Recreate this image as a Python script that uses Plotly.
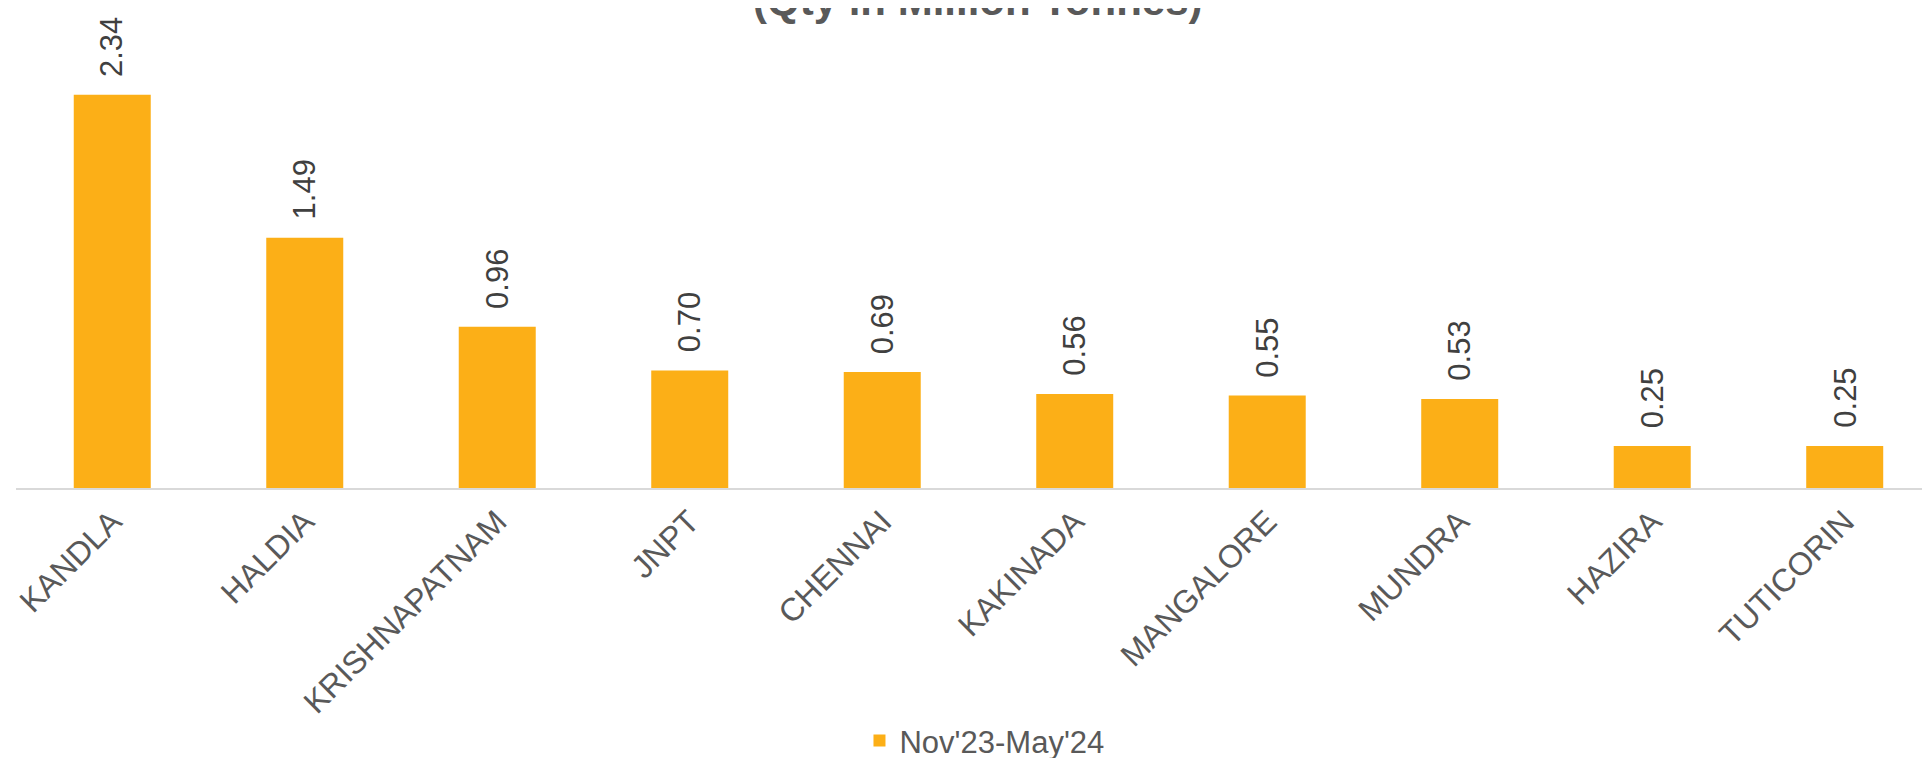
import plotly.graph_objects as go

# ==========================================
# DATA
# ==========================================

ports = ["KANDLA", "HALDIA", "KRISHNAPATNAM", "JNPT", "CHENNAI",
         "KAKINADA", "MANGALORE", "MUNDRA", "HAZIRA", "TUTICORIN"]
qty = [2.34, 1.49, 0.96, 0.70, 0.69, 0.56, 0.55, 0.53, 0.25, 0.25]
series_name = "Nov'23-May'24"
title_text = "(Qty in Million Tonnes)"

bar_color = "#FCAF17"
text_gray = "#595959"
label_gray = "#404040"

fig = go.Figure()

fig.add_trace(go.Bar(
    x=ports,
    y=qty,
    name=series_name,
    marker=dict(color=bar_color, line=dict(width=0)),
    showlegend=True
))

# ==========================================
# DATA LABELS
# ==========================================

for p, v in zip(ports, qty):
    fig.add_annotation(
        x=p, y=v, xref="x", yref="y",
        text=f"{v:.2f}",
        textangle=-90,
        showarrow=False,
        xanchor="center", yanchor="bottom",
        yshift=16,
        font=dict(family="Liberation Sans, Arial", size=31, color=label_gray)
    )

# ==========================================
# TITLE (top line is cut off in the original)
# ==========================================

fig.add_annotation(
    x=0.5026, y=1.009, xref="paper", yref="paper",
    text="<b>" + title_text + "</b>",
    showarrow=False,
    xanchor="center", yanchor="bottom",
    font=dict(family="Liberation Sans, Arial", size=42, color=text_gray)
)

# page body has an 8px margin, so the figure is a bit smaller than the window
fig.update_layout(
    width=1922,
    height=750,
    margin=dict(l=8, r=0, t=22, b=270, autoexpand=False),
    paper_bgcolor="white",
    plot_bgcolor="white",
    bargap=0.6,
    font=dict(family="Liberation Sans, Arial", color=text_gray),
    xaxis=dict(
        range=[-0.5, 9.443],
        automargin=False,
        showline=True,
        linecolor="#D9D9D9",
        linewidth=2,
        ticks="",
        tickangle=-45,
        tickfont=dict(size=32, color=text_gray),
        showgrid=False,
        zeroline=False
    ),
    yaxis=dict(
        range=[0, 2.726],
        visible=False,
        showgrid=False,
        zeroline=False
    ),
    legend=dict(
        orientation="h",
        x=0.506, xanchor="center",
        y=-0.552, yanchor="middle",
        font=dict(size=31, color=text_gray),
        bgcolor="rgba(0,0,0,0)"
    )
)

fig.write_html("out.html")
